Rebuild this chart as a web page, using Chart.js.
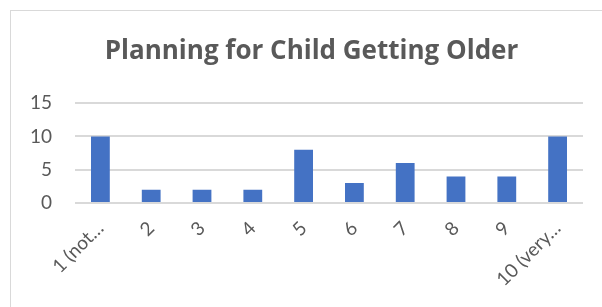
<!DOCTYPE html>
<html>
  <head>
    <title>Planning for Child Getting Older</title>
    <meta charset="utf-8">
    <script src="https://cdn.jsdelivr.net/npm/chart.js"></script>
    <style>
      body { margin: 0; background: #fff; }
      #wrap { position: relative; width: 602px; height: 307px; overflow: hidden; }
      #frame { position: absolute; left: 10px; top: 10px; width: 700px; height: 400px; border: 1.5px solid #d9d9d9; }
      #chart { position: absolute; left: 0; top: 0; }
    </style>
  </head>
  <body>
    <div id="wrap">
      <div id="frame"></div>
      <canvas id="chart" width="602" height="307"></canvas>
    </div>

<script>
  var chartTitle = 'Planning for Child Getting Older';
  var categories = ['1 (not\u2026', '2', '3', '4', '5', '6', '7', '8', '9', '10 (very\u2026'];
  var counts = [10, 2, 2, 2, 8, 3, 6, 4, 4, 10];
  var yTicks = [0, 5, 10, 15];

  var textGrey = '#595959';
  var gridGrey = '#d9d9d9';

  // the original title sits centred over the whole frame, a bit right of the plot centre
  var shiftTitle = {
    id: 'shiftTitle',
    afterLayout: function (chart) {
      chart.titleBlock.left = 40;
    }
  };

  var config = {
    type: 'bar',
    data: {
      labels: categories,
      datasets: [{
        label: 'Count',
        backgroundColor: '#4472c4',
        data: counts,
        categoryPercentage: 1,
        barPercentage: 0.37
      }]
    },
    options: {
      responsive: false,
      animation: false,
      layout: {
        padding: { left: 0, right: 19, top: 0, bottom: 0 }
      },
      scales: {
        x: {
          grid: { display: false },
          border: { display: false },
          ticks: {
            color: textGrey,
            font: { family: 'Lato', size: 19 },
            maxRotation: 45,
            minRotation: 45,
            autoSkip: false,
            padding: 6
          },
          afterFit: function (scale) { scale.height = 104; }
        },
        y: {
          min: 0,
          max: 15,
          afterBuildTicks: function (scale) {
            scale.ticks = yTicks.map(function (v) { return { value: v }; });
          },
          grid: { color: gridGrey, lineWidth: 2, drawTicks: false },
          border: { display: false },
          ticks: {
            color: textGrey,
            font: { family: 'Lato', size: 19 },
            padding: 23
          },
          afterFit: function (scale) { scale.width = 75; }
        }
      },
      plugins: {
        legend: { display: false },
        tooltip: { enabled: false },
        title: {
          display: true,
          text: chartTitle,
          color: textGrey,
          font: { family: 'Open Sans', size: 26, weight: 'bold' },
          padding: { top: 36, bottom: 36 }
        }
      }
    },
    plugins: [shiftTitle]
  };

  var chart = new Chart(document.getElementById('chart'), config);
</script>
  </body>
</html>
